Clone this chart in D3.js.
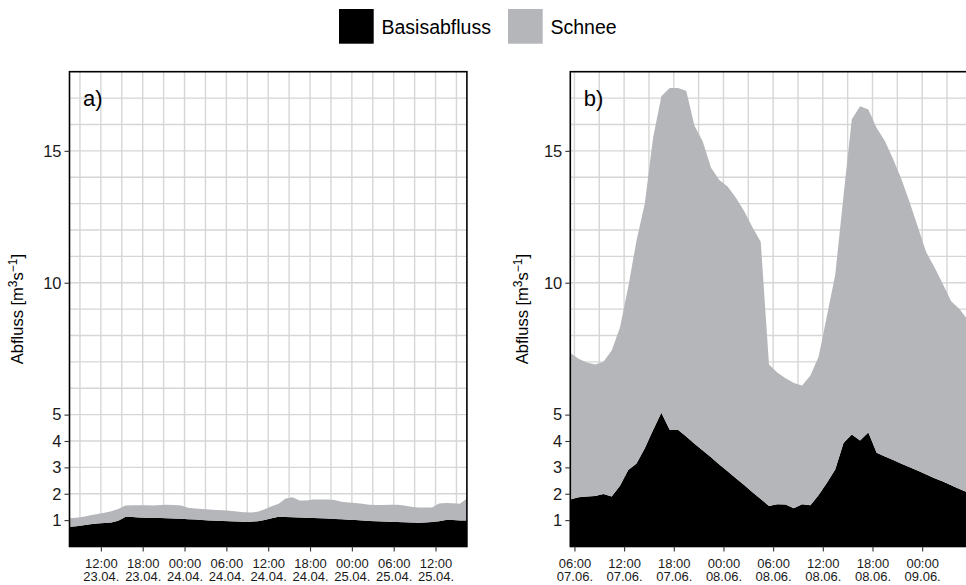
<!DOCTYPE html>
<html>
<head>
<meta charset="utf-8">
<script src="https://cdn.jsdelivr.net/npm/d3@7"></script>
<style>
  body { margin: 0; background: #fff; }
  text { font-family: "Liberation Sans", Arial, sans-serif; }
</style>
</head>
<body>
<div id="chart"></div>
<script>
// hourly values (at hh:30)
var aStart = "2013-04-23T07:30"
var aBase = [0.75, 0.77, 0.81, 0.84, 0.87, 0.89, 0.91, 0.98, 1.12, 1.12,
  1.1, 1.09, 1.09, 1.08, 1.07, 1.06, 1.05, 1.03, 1.02, 1.0,
  0.99, 0.98, 0.97, 0.96, 0.95, 0.94, 0.94, 0.96, 1.0, 1.07,
  1.13, 1.12, 1.11, 1.1, 1.09, 1.08, 1.07, 1.06, 1.04, 1.03,
  1.01, 1.0, 0.99, 0.97, 0.96, 0.95, 0.94, 0.93, 0.92, 0.91,
  0.9, 0.91, 0.93, 0.96, 1.0, 1.0, 0.99, 0.99]
var aSnow = [0.32, 0.32, 0.32, 0.34, 0.36, 0.39, 0.43, 0.44, 0.43, 0.44,
  0.46, 0.47, 0.46, 0.49, 0.51, 0.51, 0.5, 0.44, 0.42, 0.42,
  0.41, 0.4, 0.4, 0.4, 0.38, 0.36, 0.35, 0.36, 0.41, 0.46,
  0.49, 0.7, 0.76, 0.64, 0.65, 0.7, 0.71, 0.72, 0.72, 0.67,
  0.66, 0.65, 0.63, 0.61, 0.61, 0.62, 0.64, 0.65, 0.63, 0.6,
  0.58, 0.57, 0.55, 0.67, 0.65, 0.64, 0.63, 0.83]

var bStart = "2013-06-07T05:30"
var bBase = [1.78, 1.87, 1.9, 1.91, 1.99, 1.9, 2.3, 2.9, 3.15, 3.72,
  4.42, 5.07, 4.43, 4.43, 4.17, 3.9, 3.64, 3.38, 3.11, 2.85,
  2.59, 2.33, 2.06, 1.8, 1.54, 1.6, 1.59, 1.45, 1.6, 1.56,
  1.95, 2.42, 2.92, 3.92, 4.25, 4.02, 4.32, 3.55, 3.41, 3.28,
  3.14, 3.0, 2.87, 2.73, 2.59, 2.46, 2.32, 2.18, 2.05]
var bSnow = [5.56, 5.25, 5.08, 4.99, 5.01, 5.53, 6.0, 6.95, 8.45, 9.28,
  11.08, 12.0, 12.95, 12.95, 13.11, 12.05, 11.71, 10.98, 10.78, 10.8,
  10.63, 10.39, 10.04, 9.75, 5.36, 5.0, 4.79, 4.75, 4.5, 4.92,
  5.25, 6.33, 7.38, 9.38, 11.95, 12.67, 12.25, 12.32, 11.96, 11.4,
  10.78, 10.04, 9.22, 8.42, 7.99, 7.49, 6.98, 6.82, 6.55]

var yTicks = [1, 2, 3, 4, 5, 10, 15]
var seriesNames = ["Basisabfluss", "Schnee"]
var seriesColors = ["#000000", "#b4b6b9"]

var parse = d3.utcParse("%Y-%m-%dT%H:%M")

function hydroPanel() {
  var width = 397.4
  var height = 474.8
  var yMax = 18
  var label = "a)"
  var titleOffset = 45

  function chart(selection) {
    selection.each(function (d) {
      var g = d3.select(this)
      var times = d.base.map(function (v, i) {
        return d3.utcHour.offset(parse(d.start), i)
      })
      var rows = times.map(function (t, i) {
        return { t: t, Basisabfluss: d.base[i], Schnee: d.snow[i] }
      })

      var x = d3.scaleUtc().domain([times[0], times[times.length - 1]]).range([0, width])
      var y = d3.scaleLinear().domain([0, yMax]).range([height, 0])

      // grid: every unit and every 3 hours
      g.append("g").selectAll("line.h")
        .data(d3.range(1, yMax))
        .enter().append("line")
        .attr("x1", 0).attr("x2", width)
        .attr("y1", function (v) { return y(v) })
        .attr("y2", function (v) { return y(v) })
        .attr("stroke", "#d6d6d6").attr("stroke-width", 1.4)
      g.append("g").selectAll("line.v")
        .data(x.ticks(d3.utcHour.every(3)))
        .enter().append("line")
        .attr("x1", function (t) { return x(t) })
        .attr("x2", function (t) { return x(t) })
        .attr("y1", 0).attr("y2", height)
        .attr("stroke", "#d6d6d6").attr("stroke-width", 1.4)

      var stacked = d3.stack().keys(seriesNames)(rows)
      var area = d3.area()
        .x(function (p) { return x(p.data.t) })
        .y0(function (p) { return y(p[0]) })
        .y1(function (p) { return y(p[1]) })

      g.append("g").selectAll("path")
        .data(stacked)
        .enter().append("path")
        .attr("d", area)
        .attr("fill", function (s, i) { return seriesColors[i] })

      g.append("rect")
        .attr("width", width).attr("height", height)
        .attr("fill", "none").attr("stroke", "#000").attr("stroke-width", 1.6)

      var yAxis = g.append("g")
        .call(d3.axisLeft(y).tickValues(yTicks).tickSize(5).tickPadding(3))
      yAxis.select(".domain").remove()
      yAxis.selectAll("line").attr("stroke", "#333").attr("stroke-width", 1.1)
      yAxis.selectAll("text").attr("font-size", 16.5).attr("fill", "#1a1a1a")
        .attr("font-family", "Liberation Sans, Arial, sans-serif")

      var xAxis = g.append("g")
        .attr("transform", "translate(0," + height + ")")
        .call(d3.axisBottom(x).ticks(d3.utcHour.every(6)).tickSize(5))
      xAxis.select(".domain").remove()
      xAxis.selectAll("line").attr("stroke", "#333").attr("stroke-width", 1.1)
      xAxis.selectAll("text").each(function (t) {
        var txt = d3.select(this).text(null)
          .attr("y", 21.5).attr("dy", null)
          .attr("font-size", 13).attr("fill", "#1a1a1a")
          .attr("font-family", "Liberation Sans, Arial, sans-serif")
        txt.append("tspan").attr("x", 0).text(d3.utcFormat("%H:%M")(t))
        txt.append("tspan").attr("x", 0).attr("dy", 13).text(d3.utcFormat("%d.%m.")(t))
      })

      var title = g.append("text")
        .attr("transform", "translate(" + (-titleOffset) + "," + (height / 2) + ") rotate(-90)")
        .attr("text-anchor", "middle")
        .attr("font-size", 16.5)
        .attr("fill", "#000")
      title.append("tspan").text("Abfluss [m")
      title.append("tspan").attr("dy", -6).attr("font-size", 12).text("3")
      title.append("tspan").attr("dy", 6).text("s")
      title.append("tspan").attr("dy", -6).attr("font-size", 12).text("\u22121")
      title.append("tspan").attr("dy", 6).text("]")

      g.append("text")
        .attr("x", 13.5).attr("y", 34.8)
        .attr("font-size", 22)
        .text(label)
    })
  }

  chart.label = function (value) {
    if (!arguments.length) return label
    label = value
    return chart
  }

  chart.titleOffset = function (value) {
    if (!arguments.length) return titleOffset
    titleOffset = value
    return chart
  }

  return chart
}

var svg = d3.select("#chart").append("svg")
  .attr("width", 966).attr("height", 585)

// legend
var legend = svg.append("g").selectAll("g")
  .data(seriesNames)
  .enter().append("g")
  .attr("transform", function (s, i) { return "translate(" + [339, 508][i] + ",9)" })
legend.append("rect")
  .attr("width", 34.7).attr("height", 34.7)
  .attr("fill", function (s, i) { return seriesColors[i] })
legend.append("text")
  .attr("x", 42.5).attr("y", 24.5)
  .attr("font-size", 19.5)
  .text(function (s) { return s })

svg.append("g")
  .attr("transform", "translate(69.5,71.7)")
  .datum({ start: aStart, base: aBase, snow: aSnow })
  .call(hydroPanel().label("a)").titleOffset(46.5))

svg.append("g")
  .attr("transform", "translate(570.3,71.7)")
  .datum({ start: bStart, base: bBase, snow: bSnow })
  .call(hydroPanel().label("b)").titleOffset(42.5))
</script>
</body>
</html>
